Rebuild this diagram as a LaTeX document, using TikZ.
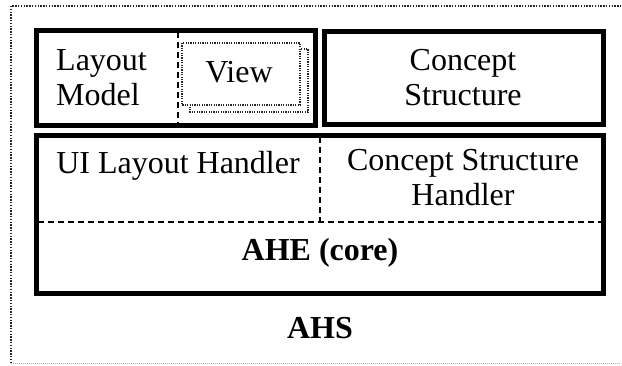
\documentclass[tikz,border=0pt]{standalone}
\usepackage{fontspec}
\setmainfont{Liberation Serif}
\begin{document}
\begin{tikzpicture}[x=1pt,y=-1pt,
  thickbox/.style={draw=black,line width=5pt},
  divider/.style={draw=black,line width=1.2pt,dash pattern=on 6pt off 4pt},
  fineborder/.style={draw=black!85,line width=1.3pt,dash pattern=on 1.2pt off 1.2pt},
  lbl/.style={font=\fontsize{32}{35}\selectfont,align=center,inner sep=0pt},
  blbl/.style={lbl,font=\fontsize{32}{35}\selectfont\bfseries}]
\useasboundingbox (0,0) rectangle (622,365);
% outer AHS frame
\draw[fineborder,line width=1.8pt,dash pattern=on 1.4pt off 1.4pt] (11,363) -- (11,6) -- (621,6);
\draw[black!30,line width=0.8pt,dash pattern=on 1pt off 1pt] (11,363) -- (621,363);
% layout model / view box
\draw[thickbox] (36,30) rectangle (315,125);
\draw[divider] (178,32) -- (178,123);
\draw[fineborder] (190,49) rectangle (308,112);
\draw[fineborder,fill=white] (182,43) rectangle (300,105);
% concept structure box
\draw[thickbox] (324,31) rectangle (603,124);
% handler / core box
\draw[thickbox] (36,135) rectangle (603,293);
\draw[divider] (320,137) -- (320,222);
\draw[divider] (38,222) -- (601,222);
% labels
\node[lbl,align=left,anchor=west] (lm) at (56,78) {Layout\\Model};
\node[lbl,anchor=base] (view) at (239,82) {View};
\node[lbl] (cs) at (463,78) {Concept\\Structure};
\node[lbl,anchor=base] (uilh) at (178,173) {UI Layout Handler};
\node[lbl] (csh) at (463,178) {Concept Structure\\Handler};
\node[blbl,anchor=base] (core) at (320,260) {AHE (core)};
\node[blbl,anchor=base] (ahs) at (320,338) {AHS};
\end{tikzpicture}
\end{document}
